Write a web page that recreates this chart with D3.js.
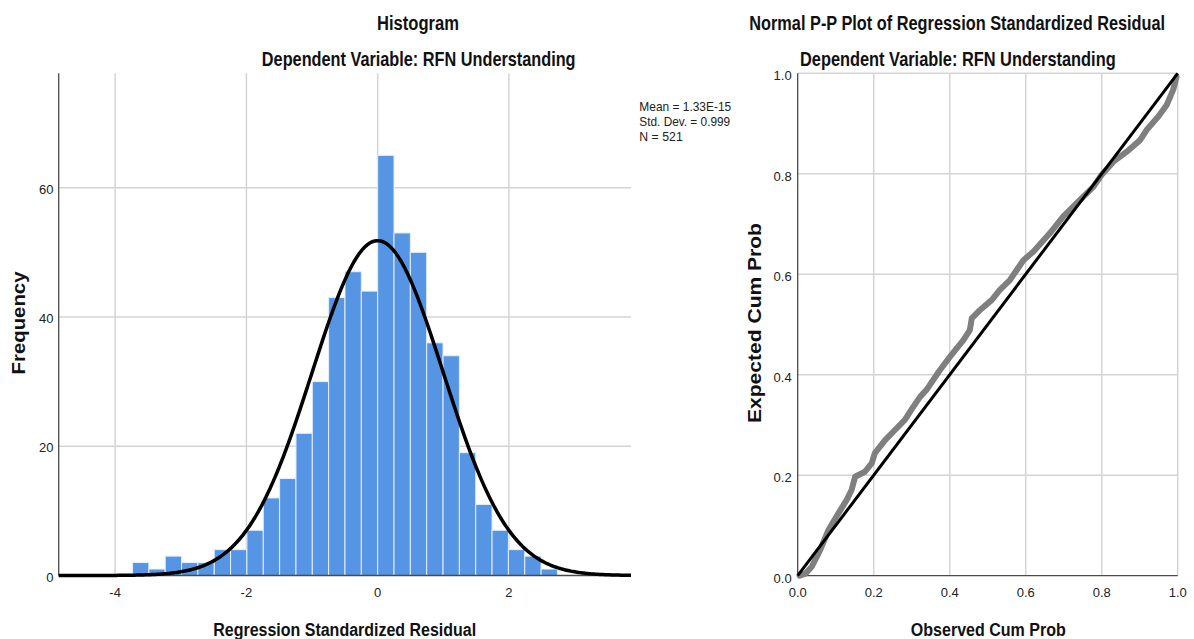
<!DOCTYPE html>
<html>
<head>
<meta charset="utf-8">
<script src="https://cdn.jsdelivr.net/npm/d3@7"></script>
<style>
  body { margin: 0; background: #fff; }
  svg { display: block; }
  .tick-label { font-family: "Liberation Sans Narrow", "Arial Narrow", "Liberation Sans", sans-serif; font-size: 13px; fill: #222; }
  .title { font-family: "Liberation Sans Narrow", "Arial Narrow", "Liberation Sans", sans-serif; font-weight: bold; font-size: 20px; fill: #111; }
  .axis-title { font-family: "Liberation Sans", sans-serif; font-weight: bold; font-size: 18px; fill: #111; }
</style>
</head>
<body>
<div id="chart"></div>
<script>
// histogram data
const binStart = -3.735;
const binWidth = 0.249;
const frequencies = [2, 1, 3, 2, 2, 4, 4, 7, 12, 15, 22, 30, 43, 47, 44, 65, 53, 50, 36, 34, 19, 11, 7, 4, 3, 1];
const residMean = 1.33e-15;
const residSd = 0.999;
const residN = 521;
const statLines = ["Mean = 1.33E-15", "Std. Dev. = 0.999", "N = 521"];
const histXTicks = [-4, -2, 0, 2];
const histYTicks = [0, 20, 40, 60];

// P-P plot data (observed cum prob, expected cum prob)
const ppObserved = [0.005, 0.02, 0.037, 0.059, 0.081, 0.107, 0.129, 0.142, 0.151, 0.177, 0.195, 0.203, 0.230, 0.256, 0.282, 0.304, 0.322,
  0.339, 0.374, 0.401, 0.436, 0.453, 0.458, 0.480, 0.511, 0.532, 0.559, 0.576, 0.594, 0.620,
  0.664, 0.699, 0.743, 0.778, 0.800, 0.831, 0.866, 0.901, 0.918, 0.949, 0.971, 0.988, 0.997];
const ppExpected = [0.0, 0.004, 0.018, 0.051, 0.091, 0.124, 0.151, 0.171, 0.197, 0.207, 0.224, 0.244, 0.270, 0.290, 0.310, 0.336, 0.356,
  0.370, 0.409, 0.436, 0.469, 0.489, 0.512, 0.529, 0.549, 0.569, 0.589, 0.608, 0.628, 0.645,
  0.682, 0.715, 0.748, 0.774, 0.798, 0.824, 0.844, 0.867, 0.887, 0.914, 0.937, 0.967, 0.993];
const ppTicks = [0, 0.2, 0.4, 0.6, 0.8, 1.0];

const width = 1194;
const height = 639;

const svg = d3.select("#chart")
  .append("svg")
  .attr("width", width)
  .attr("height", height);

const gridColor = "#d4d4d4";
const axisColor = "#4a4a4a";

// centred text, squeezed horizontally to the width seen in the reference
function addText(x, y, str, cls, len, rotate, anchor) {
  const t = svg.append("text")
    .attr("class", cls)
    .attr("text-anchor", anchor || "middle")
    .text(str);
  const natural = t.node().getComputedTextLength();
  const sx = len / natural;
  const rot = rotate ? " rotate(-90)" : "";
  t.attr("transform", `translate(${x},${y})${rot} scale(${sx},1)`);
  return t;
}

addText(418, 30, "Histogram", "title", 82);
addText(418.7, 65.7, "Dependent Variable: RFN Understanding", "title", 314);
addText(957.2, 30, "Normal P-P Plot of Regression Standardized Residual", "title", 416);
addText(957.8, 65.7, "Dependent Variable: RFN Understanding", "title", 316);

// ---------- histogram ----------
const x = d3.scaleLinear().domain([-4.86, 3.86]).range([58.7, 631]);
const y = d3.scaleLinear().domain([0, 77.7]).range([575.5, 73.3]);

const hist = svg.append("g");

hist.selectAll(".vgrid")
  .data(histXTicks)
  .enter().append("line")
  .attr("x1", d => x(d)).attr("x2", d => x(d))
  .attr("y1", y(77.7)).attr("y2", y(0))
  .attr("stroke", gridColor).attr("stroke-width", 1.5);

hist.selectAll(".hgrid")
  .data(histYTicks.filter(d => d > 0))
  .enter().append("line")
  .attr("x1", x.range()[0]).attr("x2", x.range()[1])
  .attr("y1", d => y(d)).attr("y2", d => y(d))
  .attr("stroke", gridColor).attr("stroke-width", 1.5);

hist.selectAll(".bar")
  .data(frequencies)
  .enter().append("rect")
  .attr("class", "bar")
  .attr("x", (d, i) => x(binStart + i * binWidth))
  .attr("width", x(binWidth) - x(0))
  .attr("y", d => y(d))
  .attr("height", d => y(0) - y(d))
  .attr("fill", "#5595e4")
  .attr("stroke", "#e6effb")
  .attr("stroke-width", 1);

// axis lines
hist.append("line")
  .attr("x1", x.range()[0]).attr("x2", x.range()[0])
  .attr("y1", y(77.7)).attr("y2", y(0))
  .attr("stroke", axisColor).attr("stroke-width", 1.3);
hist.append("line")
  .attr("x1", x.range()[0]).attr("x2", x.range()[1])
  .attr("y1", y(0)).attr("y2", y(0))
  .attr("stroke", axisColor).attr("stroke-width", 1.3);

// fitted normal curve from the stats
const normalPts = d3.range(-4.86, 3.861, 0.02).map(v => {
  const z = (v - residMean) / residSd;
  return [v, residN * binWidth * Math.exp(-0.5 * z * z) / (residSd * Math.sqrt(2 * Math.PI))];
});
hist.append("path")
  .datum(normalPts)
  .attr("fill", "none")
  .attr("stroke", "#000")
  .attr("stroke-width", 3.5)
  .attr("d", d3.line().x(d => x(d[0])).y(d => y(d[1])));

hist.selectAll(".xlab")
  .data(histXTicks)
  .enter().append("text")
  .attr("class", "tick-label")
  .attr("text-anchor", "middle")
  .attr("x", d => x(d))
  .attr("y", 597)
  .text(d => String(d));

hist.selectAll(".ylab")
  .data(histYTicks)
  .enter().append("text")
  .attr("class", "tick-label")
  .attr("text-anchor", "end")
  .attr("x", 53.5)
  .attr("y", d => y(d) + 6)
  .text(d => String(d));

statLines.forEach((s, i) => {
  addText(639.3, 110.7 + i * 15, s, "tick-label", [92, 91, 43.5][i], false, "start");
});

addText(344.7, 636, "Regression Standardized Residual", "axis-title", 263).style("font-size", null);
addText(25, 323, "Frequency", "axis-title", 103, true);

// ---------- P-P plot ----------
const px = d3.scaleLinear().domain([0, 1]).range([797.7, 1177.7]);
const py = d3.scaleLinear().domain([0, 1]).range([575.7, 73.3]);

const pp = svg.append("g");

pp.selectAll(".vgrid")
  .data(ppTicks.filter(d => d > 0))
  .enter().append("line")
  .attr("x1", d => px(d)).attr("x2", d => px(d))
  .attr("y1", py(1)).attr("y2", py(0))
  .attr("stroke", gridColor).attr("stroke-width", 1.5);

pp.selectAll(".hgrid")
  .data(ppTicks.filter(d => d > 0))
  .enter().append("line")
  .attr("x1", px(0)).attr("x2", px(1))
  .attr("y1", d => py(d)).attr("y2", d => py(d))
  .attr("stroke", gridColor).attr("stroke-width", 1.5);

pp.append("line")
  .attr("x1", px(0)).attr("x2", px(0))
  .attr("y1", py(1)).attr("y2", py(0))
  .attr("stroke", axisColor).attr("stroke-width", 1.3);
pp.append("line")
  .attr("x1", px(0)).attr("x2", px(1))
  .attr("y1", py(0)).attr("y2", py(0))
  .attr("stroke", axisColor).attr("stroke-width", 1.3);

pp.append("path")
  .datum(d3.zip(ppObserved, ppExpected))
  .attr("fill", "none")
  .attr("stroke", "#7f7f7f")
  .attr("stroke-width", 6)
  .attr("stroke-linejoin", "round")
  .attr("stroke-linecap", "round")
  .attr("d", d3.line().x(d => px(d[0])).y(d => py(d[1])));

pp.append("line")
  .attr("x1", px(0)).attr("y1", py(0))
  .attr("x2", px(1)).attr("y2", py(1))
  .attr("stroke", "#000")
  .attr("stroke-width", 3);

pp.selectAll(".xlab")
  .data(ppTicks)
  .enter().append("text")
  .attr("class", "tick-label")
  .attr("text-anchor", "middle")
  .attr("x", d => px(d))
  .attr("y", 597)
  .text(d => d.toFixed(1));

pp.selectAll(".ylab")
  .data(ppTicks)
  .enter().append("text")
  .attr("class", "tick-label")
  .attr("text-anchor", "end")
  .attr("x", 791.7)
  .attr("y", d => py(d) + 7)
  .text(d => d.toFixed(1));

addText(988.3, 636, "Observed Cum Prob", "axis-title", 155);
addText(760.5, 323, "Expected Cum Prob", "axis-title", 200, true);
</script>
</body>
</html>
